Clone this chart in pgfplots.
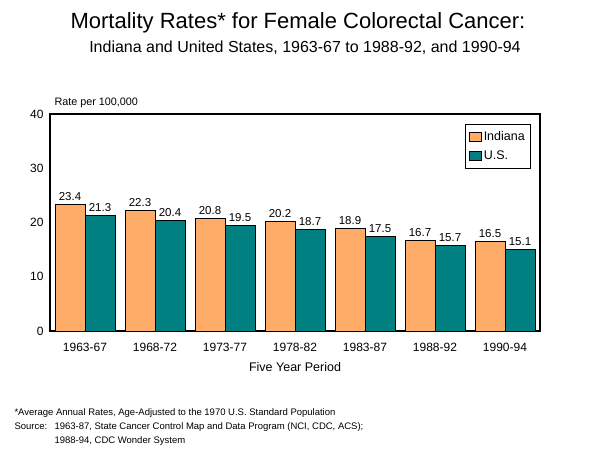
\documentclass[border=0pt]{standalone}
\usepackage{fontspec}
\setmainfont{Liberation Sans}
\usepackage{pgfplots}
\pgfplotsset{compat=1.18}

\definecolor{usteal}{RGB}{0,128,128}
\definecolor{indorange}{RGB}{255,172,105}

\begin{document}
\begin{tikzpicture}[x=1pt,y=1pt]
\useasboundingbox (0,0) rectangle (600,454);
% titles
\node[font=\fontsize{22}{26}\selectfont] at (298,431) {Mortality Rates* for Female Colorectal Cancer:};
\node[font=\fontsize{16}{18}\selectfont] at (305,406) {Indiana and United States, 1963-67 to 1988-92, and 1990-94};
\node[font=\fontsize{10.8}{12}\selectfont, anchor=base west] at (51,348) {Rate per 100,000};
% footnote
\node[font=\fontsize{9.5}{11}\selectfont, anchor=base west] at (11,38) {*Average Annual Rates, Age-Adjusted to the 1970 U.S. Standard Population};
\node[font=\fontsize{9.5}{11}\selectfont, anchor=base west] at (11,24) {Source:};
\node[font=\fontsize{9.5}{11}\selectfont, anchor=base west] at (51,24) {1963-87, State Cancer Control Map and Data Program (NCI, CDC, ACS);};
\node[font=\fontsize{9.5}{11}\selectfont, anchor=base west] at (51,10) {1988-94, CDC Wonder System};

\begin{axis}[
  at={(50pt,123pt)}, anchor=south west,
  width=490pt, height=217pt, scale only axis,
  xmin=-0.5, xmax=6.5, ymin=0, ymax=40,
  ytick={0,10,20,30,40},
  xtick=data,
  xticklabels={1963-67,1968-72,1973-77,1978-82,1983-87,1988-92,1990-94},
  ybar=0pt, bar width=30pt,
  axis line style={line width=1.4pt},
  major tick style={draw=none},
  /pgf/number format/assume math mode=true,
  ticklabel style={font=\fontsize{12}{14}\selectfont},
  xticklabel style={yshift=-4pt},
  yticklabel style={xshift=-3pt},
  xlabel={Five Year Period},
  xlabel style={font=\fontsize{12.5}{14}\selectfont, yshift=-4pt},
  nodes near coords,
  nodes near coords style={font=\fontsize{11.5}{13}\selectfont, black,
    /pgf/number format/fixed, /pgf/number format/fixed zerofill,
    /pgf/number format/precision=1, /pgf/number format/assume math mode=true},
  legend style={at={(0.982,0.954)}, anchor=north east, draw=black, line width=0.8pt,
    font=\fontsize{12.5}{14}\selectfont, row sep=5pt, inner xsep=4pt, inner ysep=5pt},
  legend cell align=left,
  legend image code/.code={\draw[#1] (0pt,-4.5pt) rectangle (12pt,4.5pt);},
]
\addplot[fill=indorange, draw=black, line width=0.8pt] coordinates {(0,23.4) (1,22.3) (2,20.8) (3,20.2) (4,18.9) (5,16.7) (6,16.5)};
\addlegendentry{Indiana}
\addplot[fill=usteal, draw=black, line width=0.8pt] coordinates {(0,21.3) (1,20.4) (2,19.5) (3,18.7) (4,17.5) (5,15.7) (6,15.1)};
\addlegendentry{U.S.}
\end{axis}
\end{tikzpicture}
\end{document}
